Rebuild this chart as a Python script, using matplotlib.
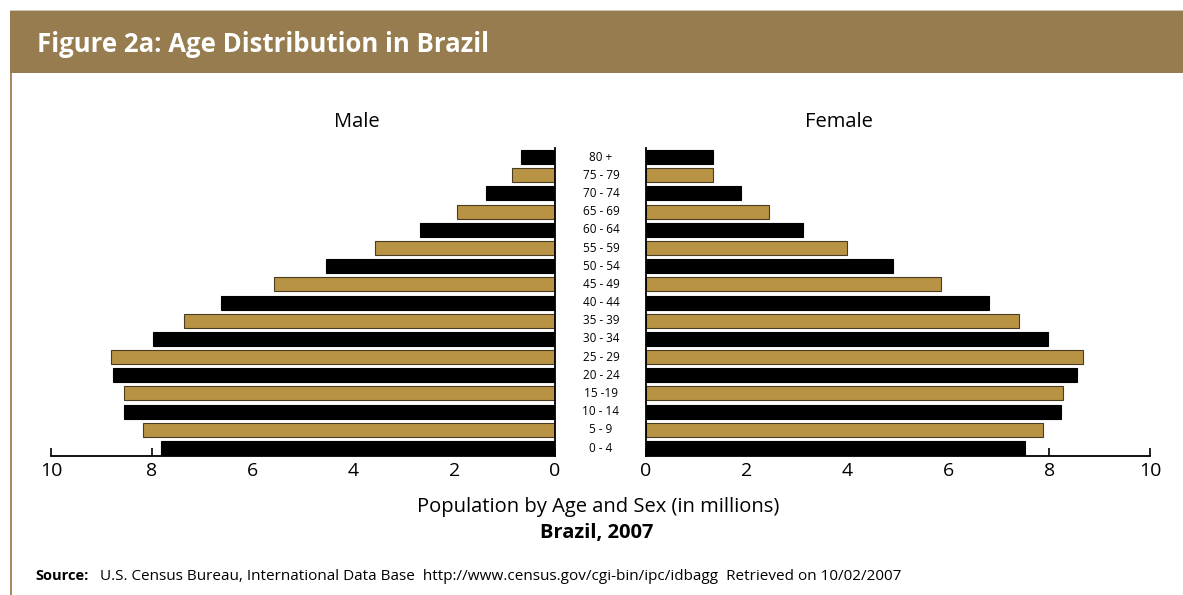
import matplotlib
matplotlib.use("Agg")
import matplotlib.pyplot as plt
import matplotlib.transforms as mtransforms
from matplotlib.patches import Rectangle
import numpy as np

plt.rcParams['font.family'] = ['Open Sans', 'DejaVu Sans']

# age groups, youngest first
age_groups = ['0 - 4', '5 - 9', '10 - 14', '15 -19', '20 - 24', '25 - 29', '30 - 34',
              '35 - 39', '40 - 44', '45 - 49', '50 - 54', '55 - 59', '60 - 64',
              '65 - 69', '70 - 74', '75 - 79', '80 +']
male = [7.82, 8.18, 8.55, 8.56, 8.76, 8.80, 7.97, 7.36, 6.63, 5.57, 4.55, 3.57, 2.67,
        1.94, 1.37, 0.86, 0.68]
female = [7.51, 7.87, 8.24, 8.28, 8.56, 8.67, 7.97, 7.41, 6.81, 5.85, 4.90, 3.99, 3.11,
          2.44, 1.88, 1.33, 1.33]
x_ticks = [0, 2, 4, 6, 8, 10]

gold = '#b89343'
gold_edge = '#4a3c22'
band = '#977c4f'

W, H = 1183, 595
fig = plt.figure(figsize=(W / 100, H / 100), dpi=100)

def fx(px):
    return px / W

def fy(py):
    return 1 - py / H

# header band and frame
fig.patches.append(Rectangle((fx(10), fy(73)), fx(W - 10), fy(10) - fy(73),
                             transform=fig.transFigure, facecolor=band, edgecolor='none'))
fig.patches.append(Rectangle((fx(10), fy(11)), fx(W - 10), 1 / H,
                             transform=fig.transFigure, facecolor='#cfc6b6', edgecolor='none'))
fig.patches.append(Rectangle((fx(10), 0), fx(2), fy(73),
                             transform=fig.transFigure, facecolor='#a3895b', edgecolor='none'))
fig.text(fx(37), fy(45), 'Figure 2a: Age Distribution in Brazil', color='white',
         fontsize=18.5, fontweight='bold', va='center', ha='left')

ax_bottom = fy(456)
ax_height = fy(148) - fy(456)
ax_l = fig.add_axes([fx(51), ax_bottom, fx(504), ax_height])
ax_r = fig.add_axes([fx(646), ax_bottom, fx(504), ax_height])

y = np.arange(len(age_groups))
colors = ['black' if i % 2 == 0 else gold for i in range(len(age_groups))]
edges = ['black' if i % 2 == 0 else gold_edge for i in range(len(age_groups))]

for ax, vals in ((ax_l, male), (ax_r, female)):
    ax.barh(y, vals, height=0.77, color=colors, edgecolor=edges, linewidth=0.8)
    ax.set_ylim(-0.44, len(age_groups) - 0.5)
    ax.set_xticks(x_ticks)
    ax.set_xticklabels([str(t) for t in x_ticks])
    ax.set_yticks([])
    ax.tick_params(axis='x', direction='in', length=6, width=1.2, labelsize=14, pad=4)
    for s in ('top', 'left', 'right', 'bottom'):
        ax.spines[s].set_visible(False)
    ax.spines['bottom'].set_visible(True)
    ax.spines['bottom'].set_linewidth(1.3)
    ax.patch.set_alpha(0)

ax_l.set_xlim(10, 0)
ax_r.set_xlim(0, 10)
ax_l.spines['right'].set_visible(True)
ax_l.spines['right'].set_linewidth(1.3)
ax_r.spines['left'].set_visible(True)
ax_r.spines['left'].set_linewidth(1.3)

# age labels between the two halves
trans = mtransforms.blended_transform_factory(fig.transFigure, ax_l.transData)
for yi, lab in zip(y, age_groups):
    fig.text(fx(601), yi, lab, transform=trans, ha='center', va='center', fontsize=8.5)

fig.text(fx(357), fy(122), 'Male', ha='center', va='center', fontsize=14.5)
fig.text(fx(839), fy(122), 'Female', ha='center', va='center', fontsize=14.5)

fig.text(fx(598), fy(507), 'Population by Age and Sex (in millions)', ha='center',
         va='center', fontsize=14.5)
fig.text(fx(597), fy(533), 'Brazil, 2007', ha='center', va='center', fontsize=14.5,
         fontweight='bold')

fig.text(fx(35), fy(576), 'Source:', ha='left', va='center', fontsize=10.5,
         fontweight='bold')
fig.text(fx(100), fy(576),
         'U.S. Census Bureau, International Data Base  http://www.census.gov/cgi-bin/ipc/idbagg  Retrieved on 10/02/2007',
         ha='left', va='center', fontsize=11)

fig.savefig('out.png', dpi=100)
